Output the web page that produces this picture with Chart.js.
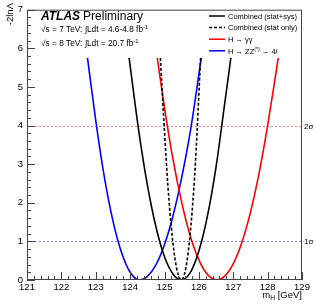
<!DOCTYPE html>
<html>
<head>
<meta charset="utf-8">
<script src="https://cdn.jsdelivr.net/npm/chart.js@4.4.0/dist/chart.umd.min.js"></script>
<style>
  html, body { margin: 0; padding: 0; background: #fff; }
</style>
</head>
<body>
<canvas id="massChart" width="316" height="305"></canvas>
<script>
// values: m_H [GeV] vs -2 ln(lambda)
const combX = [123.97, 124.25, 124.5, 124.75, 125.0, 125.25, 125.49, 125.75, 126.0, 126.25, 126.5, 126.75, 126.93];
const combY = [5.75, 3.87, 2.47, 1.38, 0.60, 0.15, 0, 0.19, 0.75, 1.66, 2.93, 4.56, 5.75];

const statX = [124.88, 125.0, 125.1, 125.2, 125.3, 125.4, 125.49, 125.6, 125.7, 125.8, 125.9, 126.05];
const statY = [5.75, 3.84, 2.43, 1.35, 0.58, 0.13, 0, 0.22, 0.80, 1.74, 3.04, 5.75];

const ggX = [124.79, 125.0, 125.25, 125.5, 125.75, 126.0, 126.25, 126.52, 126.75, 127.0, 127.25, 127.5, 127.75, 128.0, 128.31];
const ggY = [5.75, 4.46, 3.11, 2.01, 1.14, 0.52, 0.14, 0, 0.10, 0.42, 0.97, 1.75, 2.76, 4.00, 5.75];

const zzX = [122.76, 123.0, 123.25, 123.5, 123.75, 124.0, 124.28, 124.5, 124.75, 125.0, 125.25, 125.5, 125.75, 126.07];
const zzY = [5.75, 4.13, 2.67, 1.53, 0.71, 0.20, 0, 0.09, 0.39, 0.92, 1.67, 2.65, 3.84, 5.75];

const xTicks = [121, 122, 123, 124, 125, 126, 127, 128, 129];
const yTicks = [0, 1, 2, 3, 4, 5, 6, 7];

const sigmaLevels = [1, 4];
const sigmaLabels = ["1σ", "2σ"];

const FONT = "'Liberation Sans', Arial, Helvetica, sans-serif";

const toPoints = (xs, ys) => xs.map((v, i) => ({ x: v, y: ys[i] }));

// draw a run of text pieces, some of them raised/lowered
const drawRich = (ctx, x, y, parts, size) => {
  let cx = x;
  parts.forEach((p) => {
    const s = p.sup || p.sub ? size * 0.7 : size;
    ctx.font = (p.style || "") + " " + s + "px " + FONT;
    const dy = p.sup ? -size * 0.4 : p.sub ? size * 0.25 : 0;
    ctx.fillText(p.t, cx, y + dy);
    cx += ctx.measureText(p.t).width;
  });
  return cx;
};

const decorations = {
  id: "decorations",
  beforeDatasetsDraw(chart) {
    const { ctx, chartArea: a, scales: { y } } = chart;
    const colors = ["rgba(70,70,255,0.7)", "rgba(255,70,70,0.7)"];
    sigmaLevels.forEach((lvl, i) => {
      const py = Math.round(y.getPixelForValue(lvl)) + 0.5;
      ctx.save();
      ctx.strokeStyle = colors[i];
      ctx.lineWidth = 1;
      ctx.setLineDash([2, 2]);
      ctx.beginPath();
      ctx.moveTo(a.left, py);
      ctx.lineTo(a.right, py);
      ctx.stroke();
      ctx.restore();
    });
  },
  afterDraw(chart) {
    const { ctx, chartArea: a, scales: { x, y } } = chart;
    ctx.save();

    // frame
    ctx.strokeStyle = "#444";
    ctx.lineWidth = 1;
    ctx.strokeRect(a.left + 0.5, a.top + 0.5, a.right - a.left - 1, a.bottom - a.top - 1);

    // ticks pointing inward
    ctx.beginPath();
    for (let i = 0; i <= 40; i++) {
      const v = 121 + i * 0.2;
      const px = Math.round(x.getPixelForValue(v)) + 0.5;
      const len = i % 5 === 0 ? 8 : 4;
      ctx.moveTo(px, a.bottom);
      ctx.lineTo(px, a.bottom - len);
    }
    for (let i = 0; i <= 35; i++) {
      const v = i * 0.2;
      const py = Math.round(y.getPixelForValue(v)) + 0.5;
      const len = i % 5 === 0 ? 8 : 4;
      ctx.moveTo(a.left, py);
      ctx.lineTo(a.left + len, py);
    }
    ctx.stroke();

    ctx.fillStyle = "#000";
    ctx.textBaseline = "alphabetic";
    ctx.textAlign = "left";

    // sigma labels on the right
    sigmaLevels.forEach((lvl, i) => {
      const py = y.getPixelForValue(lvl);
      drawRich(ctx, a.right + 2, py + 3, [{ t: sigmaLabels[i] }], 8);
    });

    // ATLAS label
    let cx = drawRich(ctx, 41, 20, [{ t: "ATLAS", style: "italic bold" }], 12);
    drawRich(ctx, cx + 3, 20, [{ t: "Preliminary" }], 12);
    drawRich(ctx, 41, 32, [{ t: "√s = 7 TeV: ∫Ldt = 4.6-4.8 fb" }, { t: "-1", sup: true }], 8.3);
    drawRich(ctx, 41, 46, [{ t: "√s = 8 TeV: ∫Ldt = 20.7 fb" }, { t: "-1", sup: true }], 8.3);

    // legend
    const rows = [
      { ds: 0, parts: [{ t: "Combined (stat+sys)" }] },
      { ds: 1, parts: [{ t: "Combined (stat only)" }] },
      { ds: 2, parts: [{ t: "H → γγ" }] },
      { ds: 3, parts: [{ t: "H → ZZ" }, { t: "(*)", sup: true }, { t: " → 4" }, { t: "l", style: "italic" }] },
    ];
    rows.forEach((r, i) => {
      const ds = chart.data.datasets[r.ds];
      const cy = 16 + i * 11.6;
      ctx.save();
      ctx.strokeStyle = ds.borderColor;
      ctx.lineWidth = 1.5;
      ctx.setLineDash(ds.borderDash || []);
      ctx.beginPath();
      ctx.moveTo(209, cy);
      ctx.lineTo(225, cy);
      ctx.stroke();
      ctx.restore();
      drawRich(ctx, 228, cy + 2.7, r.parts, 7.5);
    });

    // axis titles
    ctx.textAlign = "left";
    ctx.font = "9.5px " + FONT;
    const w = ctx.measureText("m").width + ctx.measureText("H").width * 0.7 + ctx.measureText(" [GeV]").width;
    drawRich(ctx, a.right - w, 298, [{ t: "m" }, { t: "H", sub: true }, { t: " [GeV]" }], 9.5);

    ctx.save();
    ctx.translate(13, 3);
    ctx.rotate(-Math.PI / 2);
    ctx.textAlign = "right";
    ctx.font = "9.5px " + FONT;
    ctx.fillText("-2lnΛ", 0, 0);
    ctx.restore();

    ctx.restore();
  },
};

const lineSet = (label, xs, ys, color, dash) => ({
  label: label,
  data: toPoints(xs, ys),
  borderColor: color,
  borderWidth: 1.6,
  borderDash: dash,
  pointRadius: 0,
  fill: false,
  cubicInterpolationMode: "monotone",
});

const ctx = document.getElementById("massChart").getContext("2d");
const massChart = new Chart(ctx, {
  type: "line",
  data: {
    datasets: [
      lineSet("Combined (stat+sys)", combX, combY, "#000", []),
      lineSet("Combined (stat only)", statX, statY, "#000", [3, 2]),
      lineSet("H → γγ", ggX, ggY, "#ff0000", []),
      lineSet("H → ZZ(*) → 4l", zzX, zzY, "#0000ff", []),
    ],
  },
  options: {
    responsive: false,
    animation: false,
    devicePixelRatio: 1,
    layout: { padding: { top: 8, right: 14, left: 0, bottom: 0 } },
    plugins: { legend: { display: false }, tooltip: { enabled: false } },
    scales: {
      x: {
        type: "linear",
        min: 121,
        max: 129,
        afterBuildTicks: (scale) => { scale.ticks = xTicks.map((v) => ({ value: v })); },
        afterFit: (scale) => { scale.height = 25; },
        grid: { display: false, drawTicks: false },
        border: { display: false },
        ticks: {
          autoSkip: false,
          maxRotation: 0,
          padding: 2,
          color: "#000",
          font: { family: FONT, size: 9.5 },
        },
      },
      y: {
        type: "linear",
        min: 0,
        max: 7,
        afterBuildTicks: (scale) => { scale.ticks = yTicks.map((v) => ({ value: v })); },
        afterFit: (scale) => { scale.width = 27; },
        grid: { display: false, drawTicks: false },
        border: { display: false },
        ticks: {
          autoSkip: false,
          padding: 4,
          color: "#000",
          font: { family: FONT, size: 9.5 },
        },
      },
    },
  },
  plugins: [decorations],
});
</script>
</body>
</html>
